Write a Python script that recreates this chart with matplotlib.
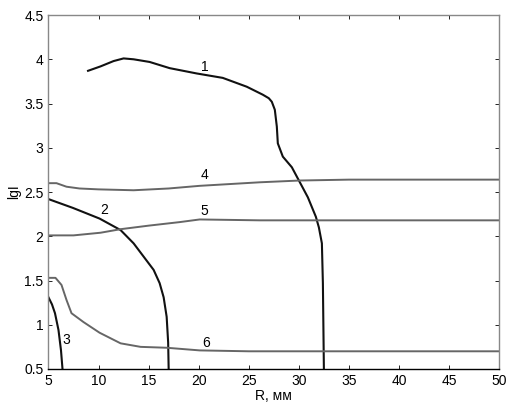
import numpy as np
import matplotlib.pyplot as plt
from matplotlib.ticker import MultipleLocator

plt.rcParams['font.family'] = ['Liberation Sans', 'DejaVu Sans']

# curve 1
r1 = [8.95, 10.2, 11.5, 12.5, 13.5, 15.1, 17.1, 19.8, 22.4, 24.8, 26.4, 27.0, 27.3, 27.6, 27.8, 27.9,
      28.4, 29.3, 30.1, 30.9, 31.7, 32.0, 32.3, 32.4, 32.5]
lg1 = [3.87, 3.92, 3.98, 4.01, 4.00, 3.97, 3.90, 3.84, 3.79, 3.69, 3.60, 3.56, 3.52, 3.43, 3.24, 3.05,
       2.90, 2.78, 2.61, 2.44, 2.22, 2.10, 1.92, 1.47, 0.5]
# curve 2
r2 = [5.0, 7.45, 10.1, 12.2, 13.5, 14.5, 15.5, 16.1, 16.5, 16.8, 16.95, 17.0]
lg2 = [2.42, 2.32, 2.20, 2.07, 1.92, 1.77, 1.62, 1.47, 1.31, 1.09, 0.8, 0.5]
# curve 3
r3 = [5.0, 5.35, 5.65, 6.0, 6.25, 6.4]
lg3 = [1.31, 1.23, 1.13, 0.94, 0.71, 0.5]
# curve 4
r4 = [5.0, 5.8, 6.8, 8.1, 10.0, 13.5, 17.0, 20.1, 26.1, 30.1, 35.0, 40.0, 50.0]
lg4 = [2.60, 2.60, 2.56, 2.54, 2.53, 2.52, 2.54, 2.57, 2.61, 2.63, 2.64, 2.64, 2.64]
# curve 5
r5 = [5.0, 7.5, 10.2, 12.2, 15.0, 18.1, 20.1, 26.1, 30.0, 40.0, 50.0]
lg5 = [2.01, 2.01, 2.04, 2.08, 2.12, 2.16, 2.19, 2.18, 2.18, 2.18, 2.18]
# curve 6
r6 = [5.0, 5.7, 6.3, 6.8, 7.3, 8.5, 10.1, 12.2, 14.2, 16.8, 20.1, 25.0, 30.0, 40.0, 50.0]
lg6 = [1.53, 1.53, 1.45, 1.28, 1.13, 1.03, 0.91, 0.79, 0.75, 0.74, 0.71, 0.70, 0.70, 0.70, 0.70]

labels = ['1', '2', '3', '4', '5', '6']
label_r = [20.6, 10.6, 6.8, 20.6, 20.6, 20.7]
label_lg = [3.91, 2.30, 0.83, 2.69, 2.28, 0.79]

fig = plt.figure(figsize=(5.13, 4.07), dpi=100)
axis = fig.add_axes([0.0945, 0.0934, 0.8785, 0.8696])

for r, lg in [(r1, lg1), (r2, lg2), (r3, lg3)]:
    axis.plot(r, lg, color='#111111', linewidth=1.5, solid_joinstyle='round')
for r, lg in [(r4, lg4), (r5, lg5), (r6, lg6)]:
    axis.plot(r, lg, color='#666666', linewidth=1.4, solid_joinstyle='round')

for text, x, y in zip(labels, label_r, label_lg):
    axis.text(x, y, text, fontsize=10, ha='center', va='center')

axis.set_xlim(5, 50)
axis.set_ylim(0.5, 4.5)
axis.xaxis.set_major_locator(MultipleLocator(5))
axis.yaxis.set_major_locator(MultipleLocator(0.5))
axis.yaxis.set_major_formatter(plt.FuncFormatter(lambda v, p: ('%g' % v)))
axis.tick_params(direction='in', top=True, right=True, length=3, labelsize=10, width=0.6)
for side in ['top', 'right', 'left']:
    axis.spines[side].set(color='#888888', linewidth=1)
axis.spines['bottom'].set(color='black', linewidth=1)
axis.set_xlabel('R, мм', fontsize=10, labelpad=1)
axis.set_ylabel('lgI', fontsize=10, labelpad=2)

plt.savefig('out.png', dpi=100)
